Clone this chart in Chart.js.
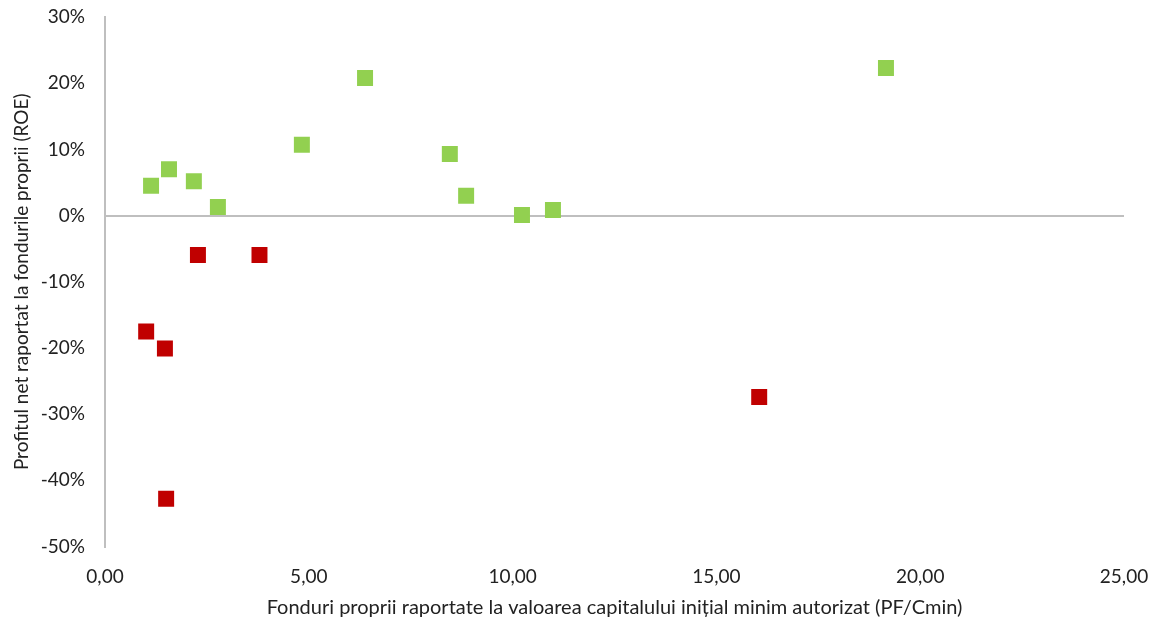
<!DOCTYPE html>
<html>
<head>
<meta charset="utf-8">
<script src="https://cdn.jsdelivr.net/npm/chart.js@4/dist/chart.umd.min.js"></script>
<style>
  html, body { margin: 0; padding: 0; background: #fff; }
  #wrap { width: 1159px; height: 628px; }
</style>
</head>
<body>
<div id="wrap"><canvas id="c" width="1159" height="628"></canvas></div>
<script>
// Companies with positive return on equity (PF/Cmin, ROE %)
const positiveX = [1.13, 1.57, 2.18, 2.77, 4.83, 6.38, 8.46, 8.86, 10.23, 10.99, 19.16];
const positiveY = [4.5, 7.0, 5.2, 1.3, 10.7, 20.8, 9.3, 3.0, 0.1, 0.85, 22.3];
// Companies with negative return on equity
const negativeX = [2.28, 3.79, 1.01, 1.47, 1.50, 16.05];
const negativeY = [-5.95, -5.95, -17.5, -20.1, -42.8, -27.4];

const xTicks = [0, 5, 10, 15, 20, 25];
const yTicks = [30, 20, 10, 0, -10, -20, -30, -40, -50];

const xTitle = 'Fonduri proprii raportate la valoarea capitalului inițial minim autorizat (PF/Cmin)';
const yTitle = 'Profitul net raportat la fondurile proprii (ROE)';

const toPoints = (xs, ys) => xs.map((x, i) => ({ x: x, y: ys[i] }));

const FONT = { family: 'Lato, "Open Sans", sans-serif', size: 19 };
const XTITLE_FONT = { family: 'Lato, "Open Sans", sans-serif', size: 20 };
const TEXT = '#222222';
const AXIS = '#BFBFBF';

new Chart(document.getElementById('c'), {
  type: 'scatter',
  data: {
    datasets: [
      {
        label: 'ROE pozitiv',
        data: toPoints(positiveX, positiveY),
        pointStyle: 'rect',
        pointRadius: 11.3,
        pointHoverRadius: 11.3,
        backgroundColor: '#92D050',
        borderWidth: 0
      },
      {
        label: 'ROE negativ',
        data: toPoints(negativeX, negativeY),
        pointStyle: 'rect',
        pointRadius: 11.3,
        pointHoverRadius: 11.3,
        backgroundColor: '#C00000',
        borderWidth: 0
      }
    ]
  },
  options: {
    responsive: false,
    animation: false,
    layout: { padding: { top: 17, right: 35, left: 0, bottom: 0 } },
    plugins: {
      legend: { display: false },
      tooltip: { enabled: false }
    },
    scales: {
      x: {
        type: 'linear',
        min: 0,
        max: 25,
        afterBuildTicks: (scale) => { scale.ticks = xTicks.map(v => ({ value: v })); },
        ticks: {
          font: FONT,
          color: TEXT,
          padding: 19,
          maxRotation: 0,
          callback: (v) => Number(v).toFixed(2).replace('.', ',')
        },
        grid: { display: false, drawTicks: false },
        border: { display: false },
        title: {
          display: true,
          text: xTitle,
          font: XTITLE_FONT,
          color: TEXT,
          padding: { top: 6, bottom: 8 }
        },
        afterFit: (scale) => {
          scale.height = 81.5;
          scale.paddingLeft = 0;
          scale.paddingRight = 0;
        }
      },
      y: {
        type: 'linear',
        min: -50,
        max: 30,
        afterBuildTicks: (scale) => { scale.ticks = yTicks.map(v => ({ value: v })); },
        ticks: {
          font: FONT,
          color: TEXT,
          padding: 20,
          callback: (v) => v + '%'
        },
        grid: {
          drawTicks: false,
          lineWidth: 2,
          color: (ctx) => (ctx.tick && ctx.tick.value === 0 ? AXIS : 'rgba(0,0,0,0)')
        },
        border: { display: true, color: AXIS, width: 2 },
        title: {
          display: true,
          text: yTitle,
          font: FONT,
          color: TEXT,
          padding: { top: 10, bottom: 0 }
        },
        afterFit: (scale) => {
          scale.width = 105;
          scale.paddingTop = 0;
          scale.paddingBottom = 0;
        }
      }
    }
  }
});
</script>
</body>
</html>
